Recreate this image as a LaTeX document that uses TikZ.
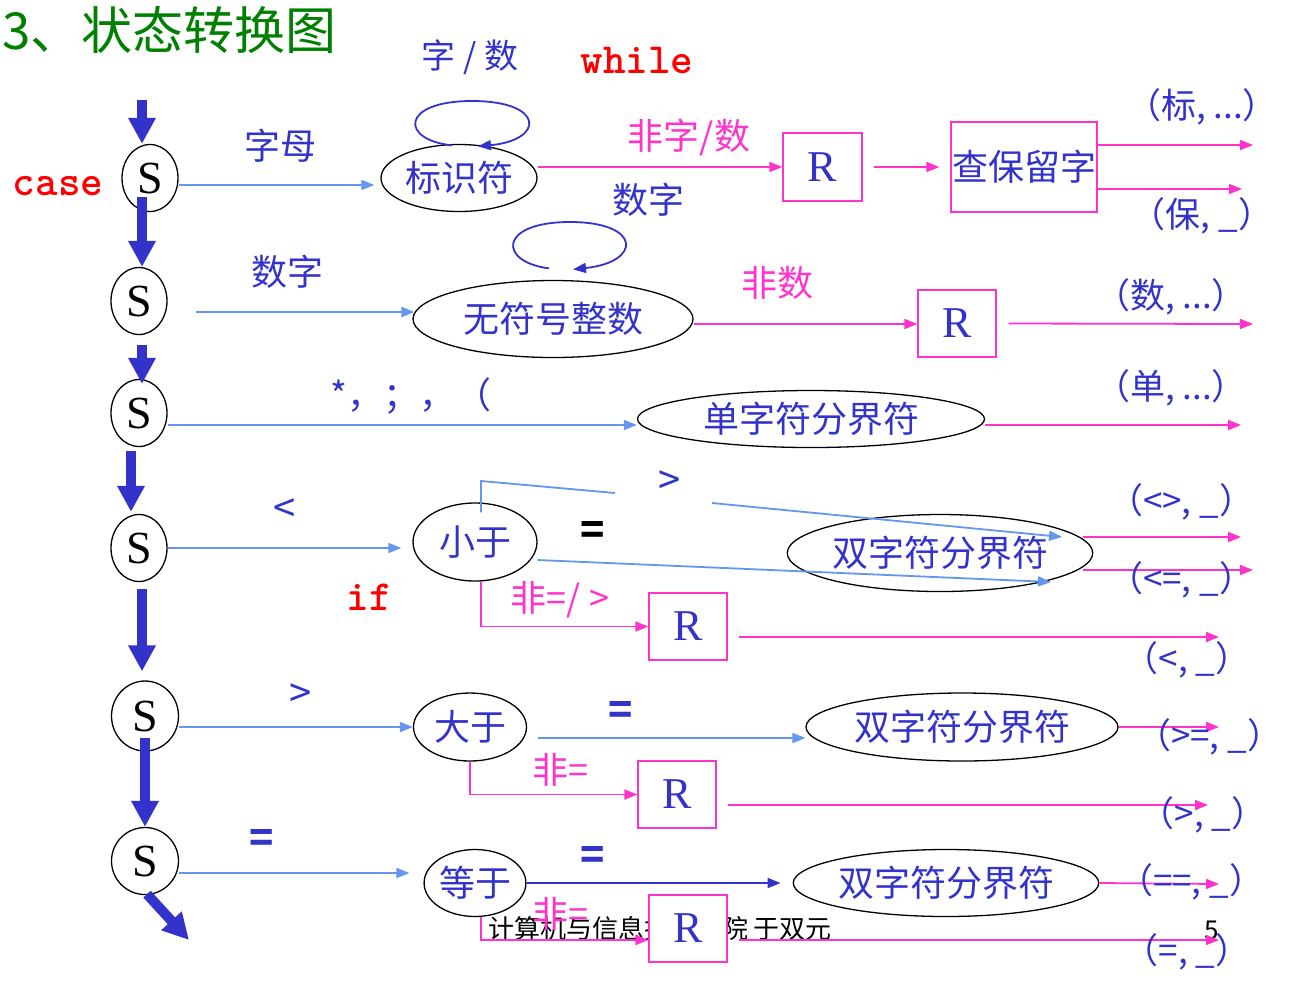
\documentclass[tikz,border=0pt]{standalone}
\usepackage{fontspec}
\newfontfamily\cjk{Noto Sans CJK SC}
\newfontfamily\serifx{Liberation Serif}
\usetikzlibrary{shapes.geometric,arrows.meta,calc}
\definecolor{tblue}{RGB}{51,51,204}
\definecolor{lblue}{RGB}{100,150,240}
\definecolor{mag}{RGB}{255,51,204}
\definecolor{tgreen}{RGB}{0,128,0}
\definecolor{tred}{RGB}{255,0,0}
\begin{document}
\begin{tikzpicture}[x=1pt,y=-1pt,
  sst/.style={ellipse,draw=black,line width=1.3pt,inner sep=0pt,font=\serifx\fontsize{46}{46}\selectfont},
  ell/.style={ellipse,draw=black,line width=1.3pt,inner sep=0pt,text=tblue,font=\cjk\fontsize{36}{36}\selectfont},
  rbox/.style={rectangle,draw=mag,line width=1.3pt,fill=white,inner sep=0pt,text=tblue,font=\serifx\fontsize{44}{44}\selectfont,minimum width=78pt,minimum height=67pt},
  lab/.style={text=tblue,font=\cjk\fontsize{36}{36}\selectfont,inner sep=0pt},
  plab/.style={text=tblue,font=\cjk\fontsize{35}{35}\selectfont,inner sep=0pt},
  mlab/.style={text=mag,font=\cjk\fontsize{36}{36}\selectfont,inner sep=0pt},
  rlab/.style={text=tred,font=\ttfamily\bfseries\fontsize{43}{43}\selectfont,inner sep=0pt},
  eqlab/.style={text=tblue,font=\cjk\bfseries\fontsize{40}{40}\selectfont,inner sep=0pt},
  big/.style={draw=tblue,line width=10pt,-{Triangle[width=26pt,length=26pt]}},
  ln/.style={draw=lblue,line width=1.8pt},
  la/.style={ln,-{Triangle[width=10pt,length=13pt]}},
  ma/.style={draw=mag,line width=1.8pt,-{Triangle[width=10pt,length=13pt]}},
  da/.style={draw=tblue,line width=1.8pt,-{Triangle[width=10pt,length=13pt]}},
]
\useasboundingbox (0,0) rectangle (1297,989);
\fill[white] (0,0) rectangle (1297,989);

% footer (behind everything)
\node[font=\cjk\fontsize{26}{26}\selectfont,inner sep=0pt] (foot) at (660,929) {计算机与信息技术学院 于双元};
\node[font=\cjk\fontsize{26}{26}\selectfont,inner sep=0pt] (pg) at (1212,930) {5};

% title
\node[anchor=west,text=tgreen,font=\cjk\fontsize{51}{51}\selectfont,inner sep=0pt] (title) at (2,30) {3、状态转换图};

% free coordinates
\coordinate (start) at (142,100);
\coordinate (fin) at (189,940);
\coordinate (bend) at (481,481);
\coordinate (gapA) at (615,493);
\coordinate (gapB) at (712,503);
\coordinate (o1) at (1253,145);
\coordinate (o2) at (1242,189);
\coordinate (o3) at (1253,324);
\coordinate (o4) at (1241,425);
\coordinate (o5) at (1241,537);
\coordinate (o6) at (1253,570);
\coordinate (o7) at (1219,637);
\coordinate (o8) at (1219,727);
\coordinate (o9) at (1208,805);
\coordinate (o10) at (1219,884);
\coordinate (o11) at (1219,940);

% S states
\node[sst,minimum width=56pt,minimum height=67pt] (s1) at (150,178) {S};
\node[sst,minimum width=56pt,minimum height=67pt] (s2) at (139,301) {S};
\node[sst,minimum width=56pt,minimum height=67pt] (s3) at (139,413) {S};
\node[sst,minimum width=56pt,minimum height=67pt] (s4) at (139,548) {S};
\node[sst,minimum width=67pt,minimum height=70pt] (s5) at (145,716) {S};
\node[sst,minimum width=67pt,minimum height=67pt] (s6) at (145,861) {S};

% ellipses
\node[ell,minimum width=156pt,minimum height=67pt] (bsf) at (459,178) {标识符};
\node[ell,minimum width=280pt,minimum height=77pt] (wfh) at (553,319) {无符号整数};
\node[ell,minimum width=347pt,minimum height=57pt] (dzf) at (811,419) {单字符分界符};
\node[ell,minimum width=124pt,minimum height=78pt] (xy) at (475,542) {小于};
\node[ell,minimum width=113pt,minimum height=68pt] (dy) at (470,727) {大于};
\node[ell,minimum width=101pt,minimum height=67pt] (deng) at (475,883) {等于};
\node[ell,minimum width=290pt,minimum height=77pt] (sz1) at (940,553) {双字符分界符};
\node[ell,minimum width=312pt,minimum height=68pt] (sz2) at (962,727) {双字符分界符};
\node[ell,minimum width=302pt,minimum height=67pt] (sz3) at (946,883) {双字符分界符};

% R boxes
\node[rbox,minimum width=79pt,minimum height=68pt] (r1) at (822.5,167) {R};
\node[rbox,minimum width=146pt,minimum height=90pt,font=\cjk\fontsize{36}{36}\selectfont] (cbl) at (1024,167) {查保留字};
\node[rbox] (r2) at (957,323.5) {R};
\node[rbox] (r3) at (688,626.5) {R};
\node[rbox] (r4) at (677,794.5) {R};
\node[rbox] (r5) at (688,928.5) {R};

% thick state chain
\draw[big] (start) -- (start |- s1.north);
\draw[big] ([xshift=-8pt,yshift=-19pt]s1.center) -- ([xshift=3pt]s2.north);
\draw[big] ([xshift=3pt,yshift=-10pt]s2.south) -- ([xshift=3pt,yshift=-5pt]s3.north);
\draw[big] ([xshift=-8pt,yshift=-4pt]s3.south) -- ([xshift=-8pt,yshift=2pt]s4.north);
\draw[big] ([xshift=3pt,yshift=-7pt]s4.south) -- ([xshift=-3pt,yshift=9pt]s5.north);
\draw[big] ([yshift=-22pt]s5.center) -- (s6.north);
\draw[big] ([xshift=2pt,yshift=1pt]s6.south) -- (fin);

% light blue transitions from S
\draw[la,shorten >=6pt] ([yshift=-7pt]s1.east) -- ([yshift=-7pt]bsf.west);
\draw[la] ([shift={(28pt,-11pt)}]s2.east) -- ([shift={(2pt,7pt)}]wfh.west);
\draw[la] ([yshift=-12pt]s3.east) -- ([yshift=-6pt]dzf.west);
\draw[la,shorten >=11pt] (s4.east) -- ([yshift=-6pt]xy.west);
\draw[la] ([yshift=-11pt]s5.east) -- (dy.west);
\draw[la,shorten >=14pt] ([yshift=-12pt]s6.east) -- ([yshift=10pt]deng.west);

% self loops
\draw[da] ([xshift=-7pt,yshift=-1.5pt]bsf.north) .. controls (400,140) and (400,101) .. (472,101) .. controls (545,101) and (545,140) .. ([xshift=19pt,yshift=-2.5pt]bsf.north);
\draw[da] ([xshift=-4pt,yshift=11.5pt]wfh.north) .. controls (498,262) and (498,222) .. (570,222) .. controls (642,222) and (642,262) .. ([xshift=20pt,yshift=10.5pt]wfh.north);

% identifier row
\draw[ma] ([yshift=11pt]bsf.east) -- (r1.west);
\draw[ma,shorten <=11pt,shorten >=11pt] (r1.east) -- (cbl.west);
\draw[ma] ([yshift=22pt]cbl.east) -- (o1);
\draw[ma] ([yshift=-22pt]cbl.east) -- (o2);

% number row
\draw[ma] ([yshift=-5pt]wfh.east) -- ([yshift=-0.5pt]r2.west);
\draw[ma] ([xshift=12pt]r2.east) -- (o3);

% single delimiter
\draw[ma] ([yshift=-6pt]dzf.east) -- (o4);

% less than
\draw[ln] ([xshift=6pt,yshift=-10pt]xy.north) -- (bend) -- (gapA);
\draw[la] (gapB) -- ([shift={(122pt,16pt)}]sz1.center);
\draw[la] ([yshift=-18pt]xy.east) -- ([shift={(111pt,-29pt)}]sz1.center);
\draw[ma] ([shift={(-10pt,16pt)}]sz1.east) -- (o5);
\draw[ma] ([shift={(-10pt,-17pt)}]sz1.east) -- (o6);
\draw[ma] ([xshift=6pt]xy.south) |- (r3.west);
\draw[ma] ([shift={(11pt,-10.5pt)}]r3.east) -- (o7);

% greater than
\draw[la] ([shift={(11pt,-11pt)}]dy.east) -- ([yshift=-11pt]sz2.west);
\draw[ma] (sz2.east) -- (o8);
\draw[ma] (dy.south) |- (r4.west);
\draw[ma] ([shift={(11pt,-10.5pt)}]r4.east) -- (o9);

% equal
\draw[da,shorten >=12pt] (deng.east) -- (sz3.west);
\draw[ma] (sz3.east) -- (o10);
\draw[ma] ([xshift=6pt]deng.south) |- ([yshift=-11.5pt]r5.west);
\draw[ma] ([shift={(11pt,-11.5pt)}]r5.east) -- (o11);

% labels
\node[lab,font=\cjk\fontsize{34}{34}\selectfont] (l1) at (470,57) {字 / 数};
\node[rlab] (l2) at (637,60) {while};
\node[rlab] (l3) at (58,186) {case};
\node[rlab] (l4) at (369,597) {if};
\node[lab] (l5) at (280,146) {字母};
\node[mlab] (l6) at (689,137) {非字/数};
\node[lab] (l7) at (648,200) {数字};
\node[lab] (l8) at (287,272) {数字};
\node[mlab] (l9) at (777,283) {非数};
\node[lab] (l10) at (411,396) {*，；，（};
\node[lab,font=\cjk\fontsize{40}{40}\selectfont] (l11) at (285,511) {<};
\node[lab,font=\cjk\fontsize{40}{40}\selectfont] (l12) at (670,483) {>};
\node[eqlab,text=black] (l13) at (593,533) {=};
\node[mlab] (l14) at (560,600) {非=/ >};
\node[lab,font=\cjk\fontsize{40}{40}\selectfont] (l15) at (301,696) {>};
\node[eqlab] (l16) at (621,713) {=};
\node[mlab] (l17) at (560,770) {非=};
\node[eqlab] (l18) at (262,841) {=};
\node[eqlab] (l19) at (593,858) {=};
\node[mlab] (l20) at (560,914) {非=};

% outputs
\node[plab] (p1) at (1202,107) {（标, ...）};
\node[plab] (p2) at (1202,216) {（保, \_）};
\node[plab] (p3) at (1171,297) {（数, ...）};
\node[plab] (p4) at (1171,388) {（单, ...）};
\node[plab] (p5) at (1181,502) {（<>, \_）};
\node[plab] (p6) at (1181,580) {（<=, \_）};
\node[plab] (p7) at (1187,660) {（<, \_）};
\node[plab] (p8) at (1209,737) {（>=, \_）};
\node[plab] (p9) at (1203,815) {（>, \_）};
\node[plab] (p10) at (1191,882) {（==, \_）};
\node[plab] (p11) at (1187,952) {（=, \_）};
\end{tikzpicture}
\end{document}
